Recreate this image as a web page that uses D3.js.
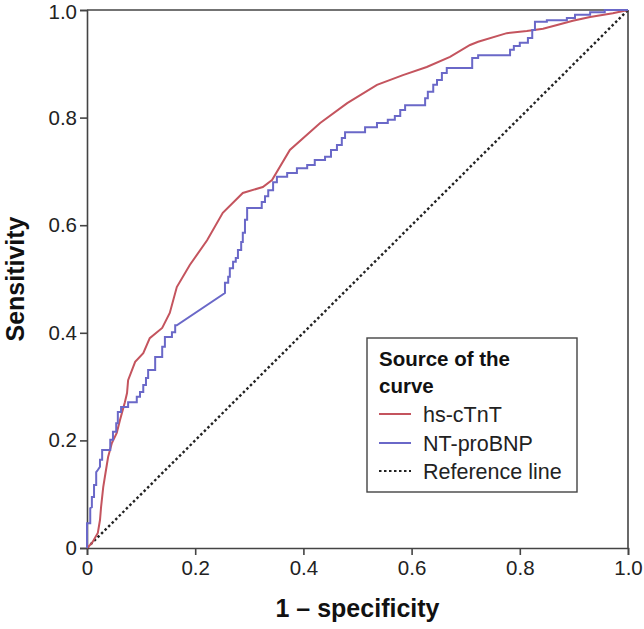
<!DOCTYPE html>
<html><head><meta charset="utf-8">
<script src="https://cdn.jsdelivr.net/npm/d3@7"></script>
<style>body{margin:0;background:#fff;}svg text{font-family:"Liberation Sans",Arial,sans-serif;}</style>
</head><body><svg id="c" width="644" height="629"></svg>
<script>
const seriesNames = ["hs-cTnT", "NT-proBNP", "Reference line"];
const xTicks = [0, 0.2, 0.4, 0.6, 0.8, 1.0];
const yTicks = [0, 0.2, 0.4, 0.6, 0.8, 1.0];
const hsCtnt = [
[0,0],[0.009,0.009],[0.020,0.028],[0.024,0.052],[0.026,0.076],[0.030,0.113],[0.033,0.132],
[0.039,0.169],[0.046,0.195],[0.055,0.214],[0.061,0.238],[0.067,0.260],[0.070,0.271],[0.074,0.288],
[0.076,0.312],[0.089,0.346],[0.104,0.362],[0.116,0.390],[0.139,0.409],[0.153,0.437],[0.166,0.485],
[0.190,0.526],[0.222,0.572],[0.251,0.623],[0.288,0.660],[0.325,0.671],[0.342,0.684],[0.375,0.740],
[0.431,0.790],[0.481,0.827],[0.536,0.861],[0.584,0.879],[0.628,0.894],[0.671,0.913],[0.708,0.935],
[0.723,0.941],[0.776,0.957],[0.813,0.961],[0.843,0.965],[0.869,0.972],[0.898,0.980],[0.930,0.987],
[0.972,0.994],[1,1]];
const ntProbnp = [
[0,0],[0,0.046],[0.006,0.046],[0.006,0.074],[0.009,0.076],[0.009,0.095],[0.013,0.095],[0.013,0.117],
[0.017,0.117],[0.017,0.141],[0.020,0.145],[0.024,0.151],[0.024,0.164],[0.028,0.164],[0.028,0.182],
[0.043,0.182],[0.043,0.201],[0.048,0.201],[0.048,0.216],[0.054,0.216],[0.054,0.232],[0.057,0.232],
[0.057,0.253],[0.063,0.253],[0.063,0.262],[0.076,0.262],[0.076,0.271],[0.092,0.271],[0.092,0.281],
[0.098,0.281],[0.098,0.290],[0.104,0.290],[0.104,0.303],[0.109,0.303],[0.109,0.316],[0.113,0.316],
[0.113,0.331],[0.126,0.331],[0.126,0.355],[0.139,0.355],[0.139,0.374],[0.144,0.374],[0.144,0.392],
[0.157,0.392],[0.157,0.401],[0.163,0.401],[0.163,0.414],[0.166,0.414],[0.255,0.474],[0.255,0.493],
[0.261,0.493],[0.261,0.504],[0.264,0.504],[0.264,0.520],[0.270,0.520],[0.270,0.532],[0.275,0.532],
[0.275,0.539],[0.279,0.539],[0.279,0.554],[0.285,0.554],[0.285,0.569],[0.288,0.569],[0.288,0.586],
[0.292,0.586],[0.292,0.610],[0.296,0.610],[0.296,0.632],[0.323,0.632],[0.323,0.643],[0.329,0.643],
[0.329,0.654],[0.335,0.654],[0.335,0.665],[0.344,0.665],[0.344,0.680],[0.351,0.680],[0.351,0.690],
[0.370,0.690],[0.370,0.697],[0.388,0.697],[0.388,0.706],[0.407,0.706],[0.407,0.712],[0.421,0.712],
[0.421,0.721],[0.440,0.721],[0.440,0.727],[0.451,0.727],[0.451,0.740],[0.462,0.740],[0.462,0.749],
[0.471,0.749],[0.471,0.762],[0.477,0.762],[0.477,0.773],[0.514,0.773],[0.514,0.782],[0.536,0.782],
[0.536,0.790],[0.556,0.790],[0.556,0.796],[0.569,0.796],[0.569,0.803],[0.579,0.803],[0.579,0.814],
[0.588,0.814],[0.588,0.823],[0.625,0.823],[0.625,0.836],[0.630,0.836],[0.630,0.848],[0.640,0.848],
[0.640,0.861],[0.647,0.861],[0.647,0.870],[0.656,0.870],[0.656,0.883],[0.665,0.883],[0.665,0.892],
[0.712,0.892],[0.712,0.911],[0.723,0.911],[0.723,0.916],[0.782,0.916],[0.782,0.926],[0.789,0.926],
[0.789,0.933],[0.800,0.933],[0.800,0.939],[0.815,0.939],[0.815,0.948],[0.823,0.948],[0.823,0.963],
[0.828,0.963],[0.828,0.978],[0.850,0.978],[0.850,0.981],[0.887,0.981],[0.887,0.985],[0.902,0.985],
[0.902,0.991],[0.930,0.991],[0.930,0.996],[0.957,0.996],[0.957,1],[1,1]];
const referenceLine = [[0,0],[1,1]];

const svg = d3.select("#c");
const L = 87, R = 628, T = 10, B = 548;
const x = d3.scaleLinear().domain([0,1]).range([L,R]);
const y = d3.scaleLinear().domain([0,1]).range([B,T]);
const axisColor = "#444";
const fmt = d => d === 0 ? "0" : d3.format(".1f")(d);

const gx = svg.append("g").attr("transform",`translate(0,${B})`)
  .call(d3.axisBottom(x).tickValues(xTicks).tickFormat(fmt).tickSize(7).tickPadding(5));
const gy = svg.append("g").attr("transform",`translate(${L},0)`)
  .call(d3.axisLeft(y).tickValues(yTicks).tickFormat(fmt).tickSize(7).tickPadding(3));
[gx,gy].forEach(g=>{
  g.select(".domain").attr("stroke",axisColor).attr("stroke-width",1.6);
  g.selectAll(".tick line").attr("stroke",axisColor).attr("stroke-width",1.6);
  g.selectAll(".tick text").attr("fill","#222").style("font-size","20.5px");
});
// keep the top y label inside the picture
gy.selectAll(".tick text").filter(d => d === 1).attr("dy","0.42em");
// frame top & right
svg.append("line").attr("x1",x(0)).attr("x2",x(1)).attr("y1",y(1)).attr("y2",y(1)).attr("stroke",axisColor).attr("stroke-width",1.6);
svg.append("line").attr("x1",x(1)).attr("x2",x(1)).attr("y1",y(0)).attr("y2",y(1)).attr("stroke",axisColor).attr("stroke-width",1.6);

const line = d3.line().x(d=>x(d[0])).y(d=>y(d[1]));
const colors = ["#c4545e", "#6a68c8", "#222"];
svg.append("path").datum(referenceLine).attr("d",line).attr("fill","none").attr("stroke",colors[2]).attr("stroke-width",2.4).attr("stroke-dasharray","2.5,2.5");
svg.append("path").datum(hsCtnt).attr("d",line).attr("fill","none").attr("stroke",colors[0]).attr("stroke-width",2);
svg.append("path").datum(ntProbnp).attr("d",line).attr("fill","none").attr("stroke",colors[1]).attr("stroke-width",2);

// axis titles
svg.append("text").attr("x",(L+R)/2).attr("y",617).attr("text-anchor","middle")
  .style("font-size","25px").style("font-weight","bold").attr("fill","#111").text("1 – specificity");
svg.append("text").attr("transform",`translate(24,${(T+B)/2}) rotate(-90)`).attr("text-anchor","middle")
  .style("font-size","25px").style("font-weight","bold").attr("fill","#111").text("Sensitivity");

// legend
const lg = svg.append("g");
lg.append("rect").attr("x",367).attr("y",338).attr("width",210).attr("height",154).attr("fill","#fff").attr("stroke",axisColor).attr("stroke-width",1.4);
lg.append("text").attr("x",379).attr("y",366).style("font-size","20.5px").style("font-weight","bold").attr("fill","#111").text("Source of the");
lg.append("text").attr("x",379).attr("y",393).style("font-size","20.5px").style("font-weight","bold").attr("fill","#111").text("curve");
const ly = [414, 443, 471];
seriesNames.forEach((n,i)=>{
  lg.append("line").attr("x1",379).attr("x2",411).attr("y1",ly[i]).attr("y2",ly[i]).attr("stroke",colors[i])
    .attr("stroke-width",2).attr("stroke-dasharray", i===2 ? "2.5,2.5" : null);
  lg.append("text").attr("x",423).attr("y",ly[i]+8).style("font-size","21.5px").attr("fill","#222").text(n);
});
</script></body></html>
